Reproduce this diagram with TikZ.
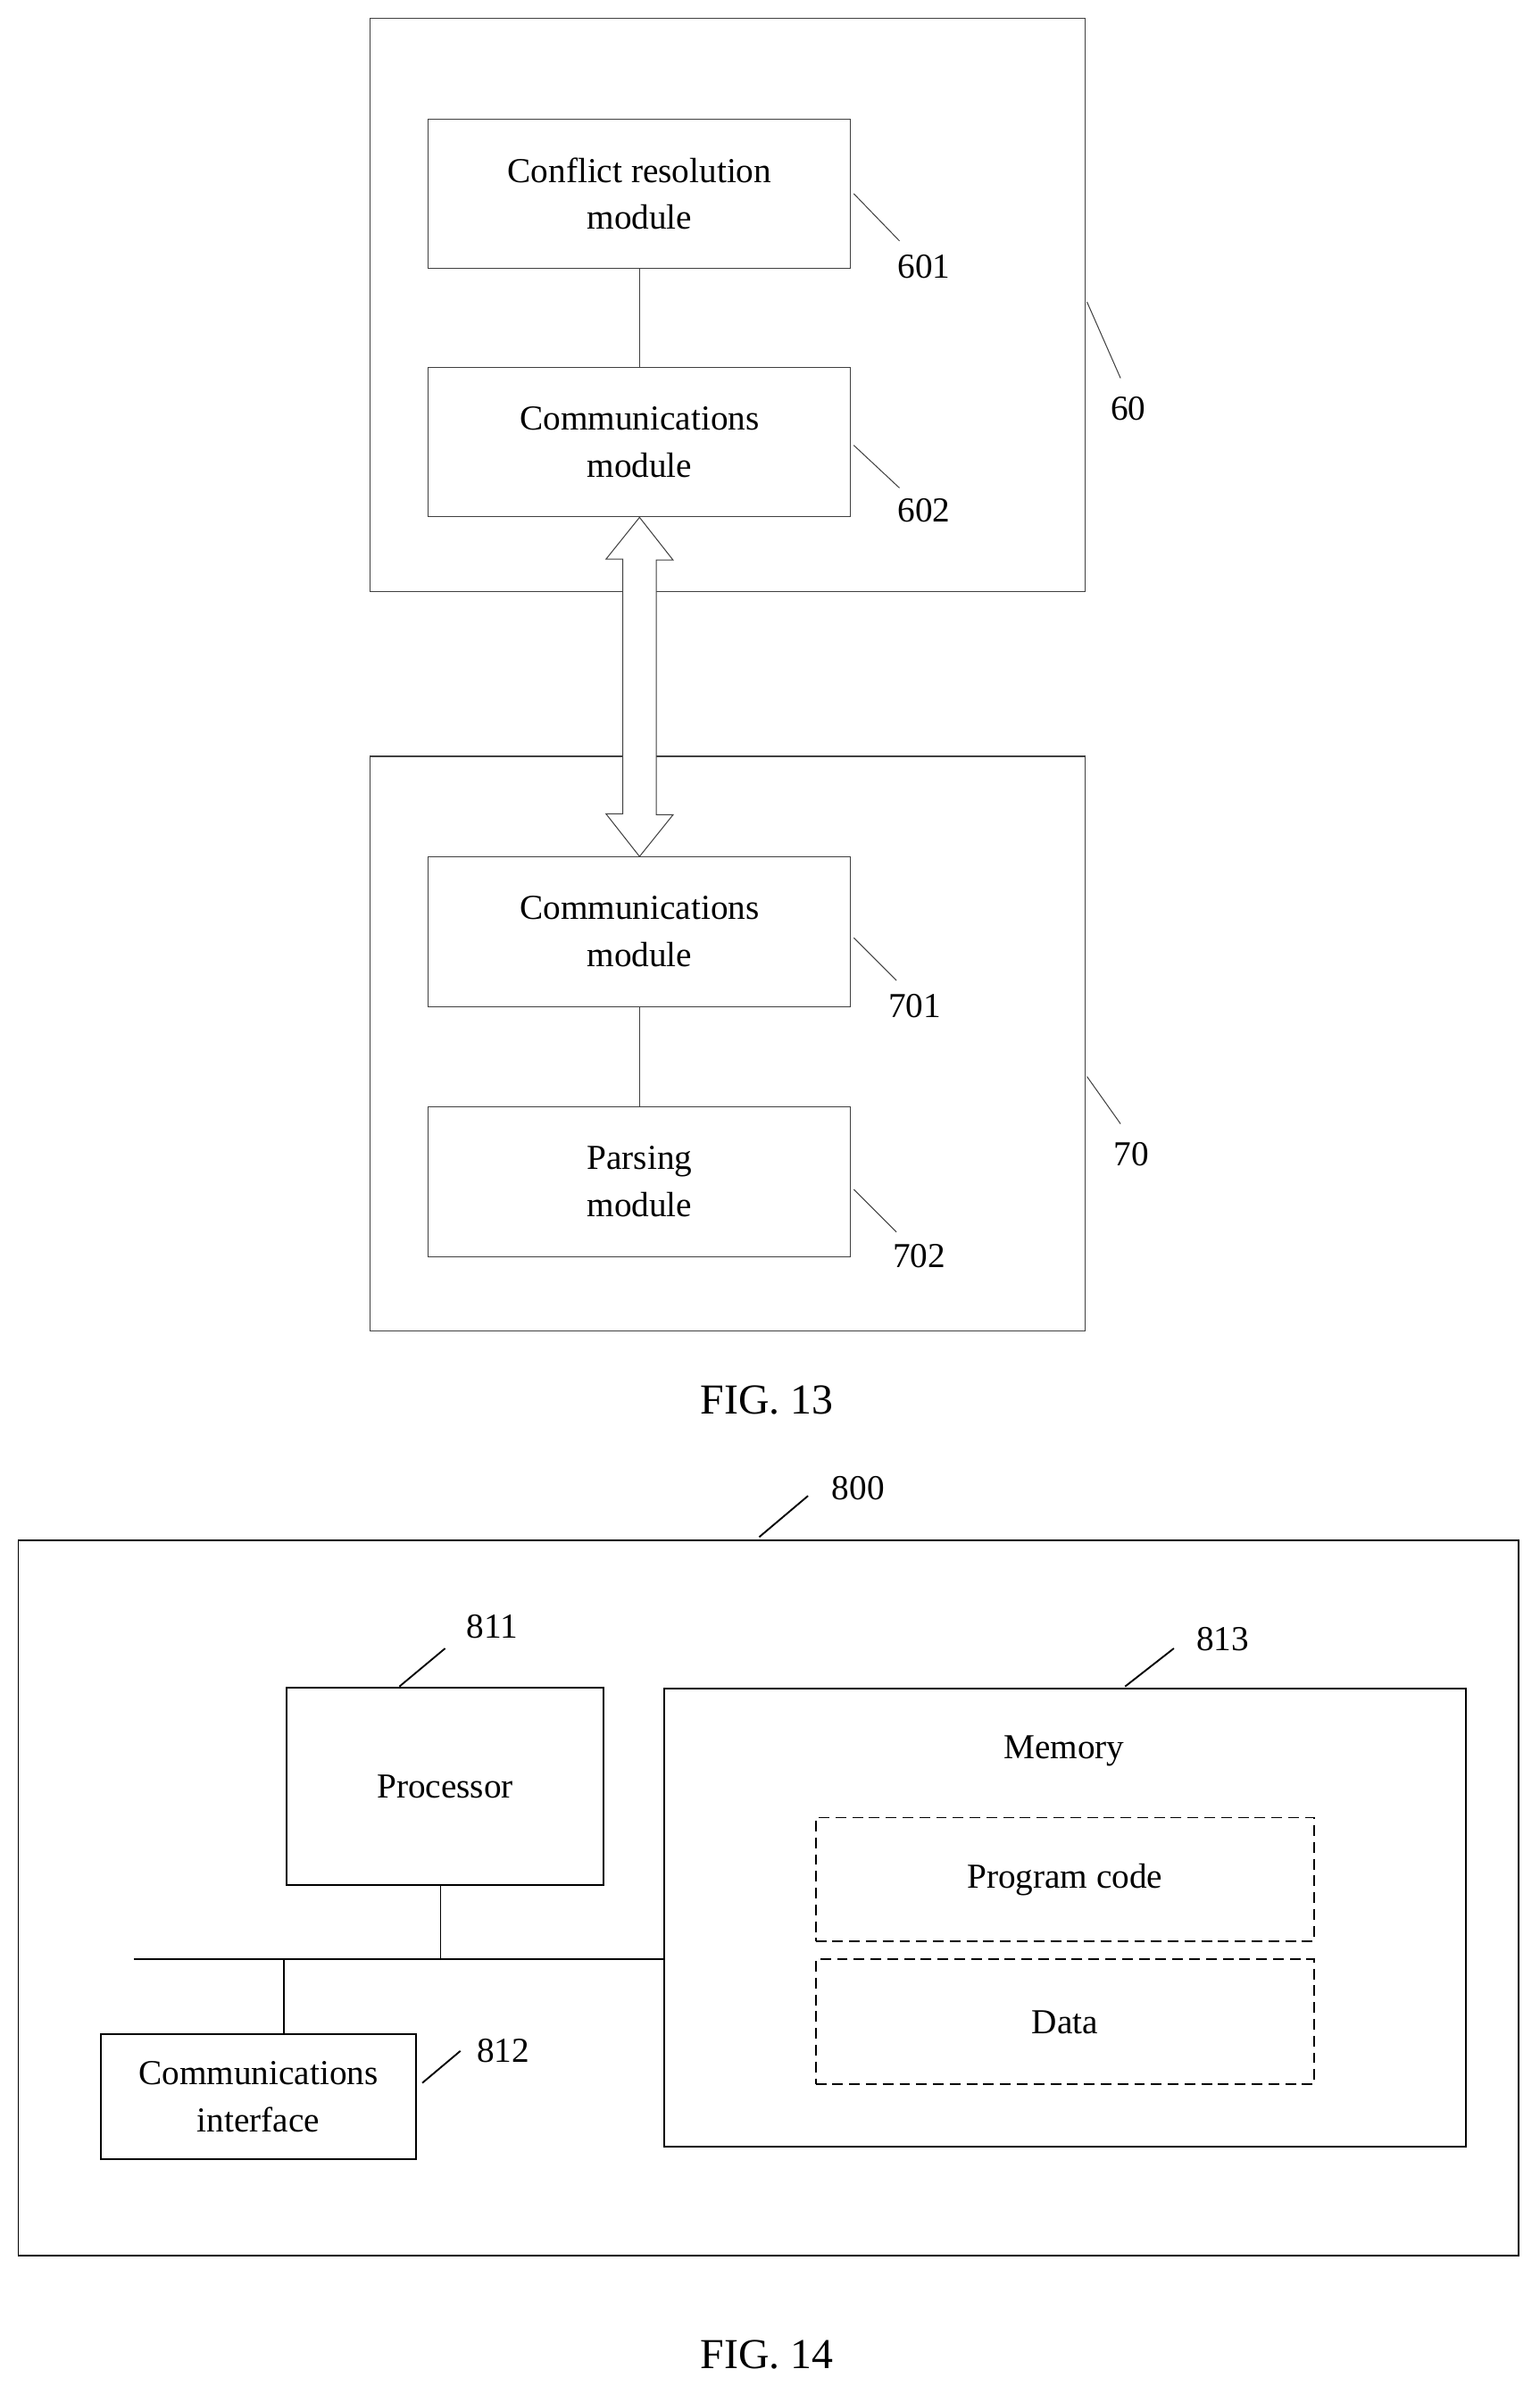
\documentclass[tikz,border=0pt]{standalone}
\usepackage{fontspec}
\setmainfont{Liberation Serif}
\begin{document}
\begin{tikzpicture}[x=1pt,y=-1pt,
  lbl/.style={font=\fontsize{23}{31}\selectfont, inner sep=0},
  g/.style={draw=black!75, line width=0.6pt},
  b/.style={draw=black, line width=1.1pt},
  box13/.style={g, fill=none},
  tx/.style={lbl, align=center}]
\useasboundingbox (0,0) rectangle (1010,1570);
% FIG 13
\draw[box13] (243,12) rectangle (712,388);
\draw[box13] (243,496) rectangle (712,873);
\node[box13, minimum width=277, minimum height=98, tx] (m601) at (419.5,127) {Conflict resolution\\module};
\node[box13, minimum width=277, minimum height=98, tx] (m602) at (419.5,290) {Communications\\module};
\node[box13, minimum width=277, minimum height=98, tx] (m701) at (419.5,611) {Communications\\module};
\node[box13, minimum width=277, minimum height=98, tx] (m702) at (419.5,775) {Parsing\\module};
\draw[g] (m601.south) -- (m602.north);
\draw[g] (m701.south) -- (m702.north);
\draw[g, fill=white] (m602.south) -- ++(22,28) -- ++(-11,0) -- ++(0,167) -- ++(11,0) -- (m701.north) -- ++(-22,-28) -- ++(11,0) -- ++(0,-167) -- ++(-11,0) -- cycle;
\node[lbl] (l601) at (606,175) {601};
\node[lbl] (l602) at (606,335) {602};
\node[lbl] (l60) at (740,268) {60};
\node[lbl] (l701) at (600,660) {701};
\node[lbl] (l702) at (603,824) {702};
\node[lbl] (l70) at (742,757) {70};
\draw[g] (560,127) -- (590,158);
\draw[g] (560,292) -- (590,320);
\draw[g] (713,198) -- (735,248);
\draw[g] (560,615) -- (588,643);
\draw[g] (560,780) -- (588,808);
\draw[g] (713,706) -- (735,737);
\node[font=\fontsize{28}{32}\selectfont] (f13) at (503,918) {FIG. 13};
% FIG 14
\draw[b] (12,1010) rectangle (996,1479);
\node[lbl] (l800) at (563,976) {800};
\draw[b] (498,1008) -- (530,981);
\node[b, minimum width=208, minimum height=129, tx] (proc) at (292,1171.5) {Processor};
\node[lbl] (l811) at (323,1067) {811};
\draw[b] (262,1106) -- (292,1081);
\node[b, minimum width=526, minimum height=300, anchor=north west] (mem) at (435,1107) {};
\node[tx] (memt) at (698,1148) {Memory};
\node[lbl] (l813) at (802,1075) {813};
\draw[b] (738,1106) -- (770,1081);
\node[b, dashed, dash pattern=on 7pt off 4pt, minimum width=327, minimum height=81, tx] (code) at (698.5,1232.5) {Program code};
\node[b, dashed, dash pattern=on 7pt off 4pt, minimum width=327, minimum height=82, tx] (data) at (698.5,1326) {Data};
\coordinate (busl) at (88,1285);
\coordinate (busp) at (289,1285);
\coordinate (busc) at (186,1285);
\draw[b] (busl) -- (busl -| mem.west);
\draw[b] (busp) -- (busp |- proc.south);
\node[b, minimum width=207, minimum height=82, tx] (ci) at (169.5,1375) {Communications\\interface};
\draw[b] (busc) -- (busc |- ci.north);
\node[lbl] (l812) at (330,1345) {812};
\draw[b] (277,1366) -- (302,1345);
\node[font=\fontsize{28}{32}\selectfont] (f14) at (503,1544) {FIG. 14};
\end{tikzpicture}
\end{document}
